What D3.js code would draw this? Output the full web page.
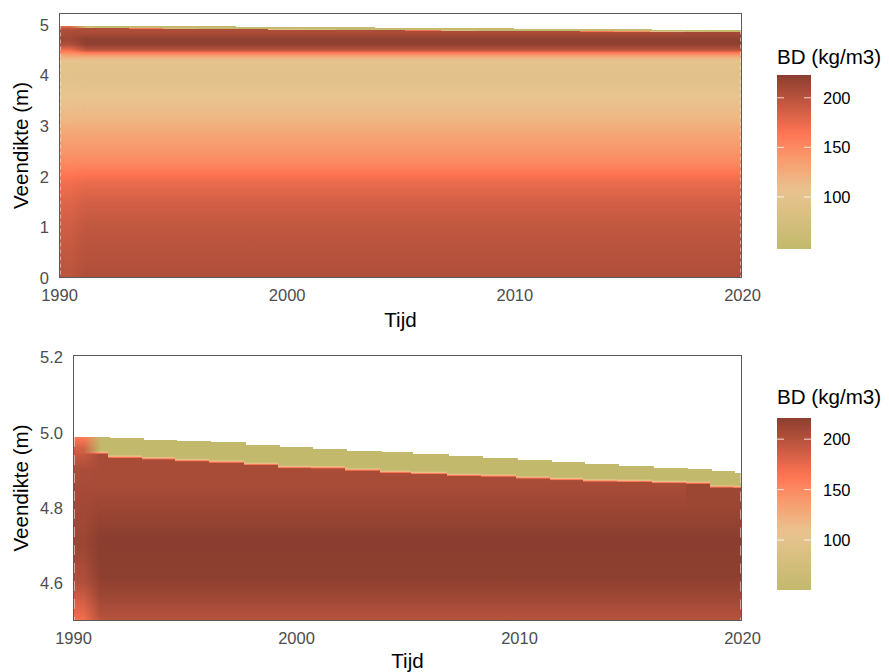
<!DOCTYPE html>
<html><head><meta charset="utf-8">
<script src="https://cdn.jsdelivr.net/npm/d3@7"></script>
<style>
body{margin:0;background:#fff}
svg{display:block;font-family:"Liberation Sans",Arial,Helvetica,sans-serif}
</style>
</head><body>
<svg id="chart" width="889" height="672"></svg>
<script>
// ---------------- DATA ----------------
// time steps (years) bounding each raster column
const timeBreaks = [1990, 1990.6, 1991.57, 1993.1, 1994.6, 1996.1, 1997.7, 1999.2, 2000.7, 2002.2, 2003.8,
  2005.2, 2006.8, 2008.3, 2009.9, 2011.4, 2012.9, 2014.4, 2016.0, 2017.5, 2018.6, 2019.6, 2020];
// peat surface level (m) per column
const surfaceLevel = [4.989, 4.989, 4.987, 4.982, 4.978, 4.975, 4.967, 4.963, 4.957, 4.951, 4.948,
  4.943, 4.938, 4.933, 4.927, 4.921, 4.917, 4.911, 4.907, 4.904, 4.898, 4.892];
// bottom of the loose (low-density) top layer per column (null = not present)
const looseBottom = [null, 4.945, 4.934, 4.930, 4.925, 4.921, 4.915, 4.907, 4.906, 4.900, 4.894,
  4.891, 4.886, 4.884, 4.879, 4.875, 4.871, 4.870, 4.867, 4.865, 4.855, 4.854];
const looseBD = 50;
// bulk density profile below the loose layer
const profileDepth = [0, 0.5, 1.0, 1.5, 1.9, 2.1, 2.3, 2.6, 2.9, 3.1, 3.4, 3.7, 4.0, 4.25, 4.35, 4.45, 4.5, 4.56, 4.62, 4.72, 4.8, 4.86];
const profileBD    = [205, 200, 195, 186, 174, 162, 150, 138, 128, 118, 110, 103, 97, 100, 118, 160, 198, 210, 220, 221, 212, 206];
// first (initial) column profile
const initDepth = [0, 0.5, 1.0, 1.5, 1.9, 2.1, 2.3, 2.6, 2.9, 3.1, 3.4, 3.7, 4.0, 4.25, 4.35, 4.45, 4.5, 4.6, 4.7, 4.9, 4.96, 4.989];
const initBD    = [198, 194, 188, 180, 170, 160, 150, 138, 128, 118, 110, 103, 97, 100, 118, 150, 168, 200, 212, 205, 185, 160];

const xTicks = [1990, 2000, 2010, 2020];
const yTicksTop = [0, 1, 2, 3, 4, 5];
const yTicksBottom = [4.6, 4.8, 5.0, 5.2];
const legendTicks = [100, 150, 200];
const bdRangeTop = [47.5, 223];
const bdRangeBottom = [50.5, 221];
const palette = ["#c2b96c", "#e8c48f", "#ff7453", "#8b3e2f"];

// ---------------- DRAW ----------------
const svg = d3.select("#chart");
svg.append("rect").attr("width", 889).attr("height", 672).attr("fill", "#fff");
const defs = svg.append("defs");

// horizontal fade used to blend the initial column into its neighbour
const fade = defs.append("linearGradient").attr("id", "initFade")
  .attr("x1", 0).attr("x2", 1).attr("y1", 0).attr("y2", 0);
[[0, 1], [0.3, 0.95], [0.75, 0]].forEach(([o, a]) =>
  fade.append("stop").attr("offset", o).attr("stop-color", "#fff").attr("stop-opacity", a));

function colourScale(range) {
  const [lo, hi] = range;
  return d3.scaleLinear()
    .domain(palette.map((_, i) => lo + (hi - lo) * i / (palette.length - 1)))
    .range(palette).interpolate(d3.interpolateLab).clamp(true);
}

function columnProfile(i) {
  const s = surfaceLevel[i], lb = looseBottom[i];
  if (lb == null) {
    return initDepth.map((d, k) => ({d, v: initBD[k]})).filter(p => p.d <= s + 1e-9);
  }
  const pts = [];
  profileDepth.forEach((d, k) => { if (d < lb - 0.006) pts.push({d, v: profileBD[k]}); });
  const last = pts[pts.length - 1].v;
  pts.push({d: lb - 0.002, v: last});
  pts.push({d: lb + 0.007, v: looseBD});
  pts.push({d: s, v: looseBD});
  return pts;
}

function panel(cfg) {
  const g = svg.append("g");
  const x = d3.scaleLinear().domain([1990, 2020]).range([cfg.left, cfg.right]);
  const y = d3.scaleLinear().domain(cfg.yDomain).range([cfg.bottom, cfg.top]);
  const col = colourScale(cfg.bdRange);
  const clipId = "clip-" + cfg.id;
  defs.append("clipPath").attr("id", clipId).append("rect")
    .attr("x", cfg.left).attr("y", cfg.top).attr("width", cfg.right - cfg.left).attr("height", cfg.bottom - cfg.top);

  const maxD = 5.0;
  const cells = g.append("g").attr("clip-path", `url(#${clipId})`);
  const order = d3.range(1, surfaceLevel.length).concat([0]); // initial column drawn last (faded on top)
  order.forEach(i => {
    const s = surfaceLevel[i];
    const gid = `grad-${cfg.id}-${i}`;
    const grad = defs.append("linearGradient").attr("id", gid)
      .attr("gradientUnits", "userSpaceOnUse")
      .attr("x1", 0).attr("x2", 0).attr("y1", y(0)).attr("y2", y(maxD));
    const pts = columnProfile(i);
    const n = 8;
    for (let k = 0; k < pts.length - 1; k++) {
      const a = pts[k], b = pts[k + 1];
      for (let j = 0; j < n; j++) {
        const t = j / n;
        const d = a.d + (b.d - a.d) * t, v = a.v + (b.v - a.v) * t;
        grad.append("stop").attr("offset", Math.max(0, Math.min(1, d / maxD))).attr("stop-color", col(v));
      }
    }
    const lp = pts[pts.length - 1];
    grad.append("stop").attr("offset", Math.min(1, lp.d / maxD)).attr("stop-color", col(lp.v));

    let x0, x1;
    if (i === 0) { x0 = x(timeBreaks[0]); x1 = x(timeBreaks[2]); }
    else if (i === 1) { x0 = x(timeBreaks[0]); x1 = x(timeBreaks[2]); }
    else { x0 = x(timeBreaks[i]); x1 = x(timeBreaks[i + 1]); }
    const r = cells.append("rect")
      .attr("x", Math.floor(x0)).attr("width", Math.ceil(x1) - Math.floor(x0) + (i < surfaceLevel.length - 1 ? 1 : 0))
      .attr("y", y(s)).attr("height", y(cfg.yDomain[0]) - y(s))
      .attr("shape-rendering", "crispEdges")
      .attr("fill", `url(#${gid})`);
    if (i === 0) {
      const mid = "mask-" + cfg.id;
      defs.append("mask").attr("id", mid).attr("maskContentUnits", "objectBoundingBox")
        .append("rect").attr("width", 1).attr("height", 1).attr("fill", "url(#initFade)");
      r.attr("mask", `url(#${mid})`);
    }
  });

  // white dashed edges at first/last time
  [1990, 2020].forEach(t => {
    cells.append("line")
      .attr("x1", x(t) + (t === 1990 ? 1 : -1)).attr("x2", x(t) + (t === 1990 ? 1 : -1))
      .attr("y1", y(Math.min(cfg.yDomain[1], t === 1990 ? surfaceLevel[0] : surfaceLevel[surfaceLevel.length - 1])))
      .attr("y2", cfg.bottom)
      .attr("stroke", "#eeeeee").attr("stroke-opacity", 0.85).attr("stroke-width", 1.3)
      .attr("stroke-dasharray", cfg.dash);
  });

  // border
  g.append("rect").attr("x", cfg.left + 0.5).attr("y", cfg.top + 0.5)
    .attr("width", cfg.right - cfg.left - 1).attr("height", cfg.bottom - cfg.top - 1)
    .attr("fill", "none").attr("stroke", "#5a5a5a").attr("stroke-width", 1);

  // axes
  const xa = g.append("g").attr("transform", `translate(0,${cfg.bottom})`)
    .call(d3.axisBottom(x).tickValues(xTicks).tickFormat(d3.format("d")).tickSize(0).tickPadding(11));
  xa.select(".domain").remove();
  xa.selectAll("text").attr("fill", "#4d4d4d").attr("font-size", "16.5px").attr("font-family", null);

  const ya = g.append("g").attr("transform", `translate(${cfg.left},0)`)
    .call(d3.axisLeft(y).tickValues(cfg.yTicks).tickFormat(d3.format(cfg.yFmt)).tickSize(0).tickPadding(10));
  ya.select(".domain").remove();
  ya.selectAll("text").attr("fill", "#4d4d4d").attr("font-size", "16.5px").attr("font-family", null);

  g.append("text").attr("x", (cfg.left + cfg.right) / 2).attr("y", cfg.xTitleY)
    .attr("text-anchor", "middle").attr("font-size", "20.6px").attr("fill", "#000").text("Tijd");
  g.append("text").attr("transform", `translate(28,${(cfg.top + cfg.bottom) / 2}) rotate(-90)`)
    .attr("text-anchor", "middle").attr("font-size", "20.6px").attr("fill", "#000").text("Veendikte (m)");

  // legend
  const lg = svg.append("g");
  lg.append("text").attr("x", 777).attr("y", cfg.legTitleY).attr("font-size", "20.6px").attr("fill", "#000").text("BD (kg/m3)");
  const ly = d3.scaleLinear().domain(cfg.bdRange).range([cfg.legBottom, cfg.legTop]);
  const lgid = "leg-" + cfg.id;
  const lgrad = defs.append("linearGradient").attr("id", lgid)
    .attr("gradientUnits", "userSpaceOnUse").attr("x1", 0).attr("x2", 0)
    .attr("y1", cfg.legBottom).attr("y2", cfg.legTop);
  d3.range(0, 1.0001, 0.05).forEach(t => {
    lgrad.append("stop").attr("offset", t).attr("stop-color", col(cfg.bdRange[0] + (cfg.bdRange[1] - cfg.bdRange[0]) * t));
  });
  const bx = 777, bw = 34;
  lg.append("rect").attr("x", bx).attr("y", cfg.legTop).attr("width", bw).attr("height", cfg.legBottom - cfg.legTop)
    .attr("fill", `url(#${lgid})`);
  legendTicks.forEach(v => {
    const yy = ly(v);
    lg.append("line").attr("x1", bx).attr("x2", bx + 7).attr("y1", yy).attr("y2", yy)
      .attr("stroke", "#fff").attr("stroke-opacity", 0.8).attr("stroke-width", 1);
    lg.append("line").attr("x1", bx + bw - 7).attr("x2", bx + bw).attr("y1", yy).attr("y2", yy)
      .attr("stroke", "#fff").attr("stroke-opacity", 0.8).attr("stroke-width", 1);
    lg.append("text").attr("x", 823).attr("y", yy).attr("dy", "0.36em")
      .attr("font-size", "16.5px").attr("fill", "#000").text(v);
  });
}

panel({id: "top", left: 59, right: 742, top: 13, bottom: 278, yDomain: [0, 5.237], yTicks: yTicksTop, yFmt: "d",
  bdRange: bdRangeTop, dash: "4,3", xTitleY: 327, legTitleY: 64, legTop: 75, legBottom: 249});
panel({id: "bot", left: 73, right: 742, top: 355, bottom: 621, yDomain: [4.5, 5.2065], yTicks: yTicksBottom, yFmt: ".1f",
  bdRange: bdRangeBottom, dash: "10,8", xTitleY: 668, legTitleY: 404, legTop: 418, legBottom: 590});
</script>
</body></html>
